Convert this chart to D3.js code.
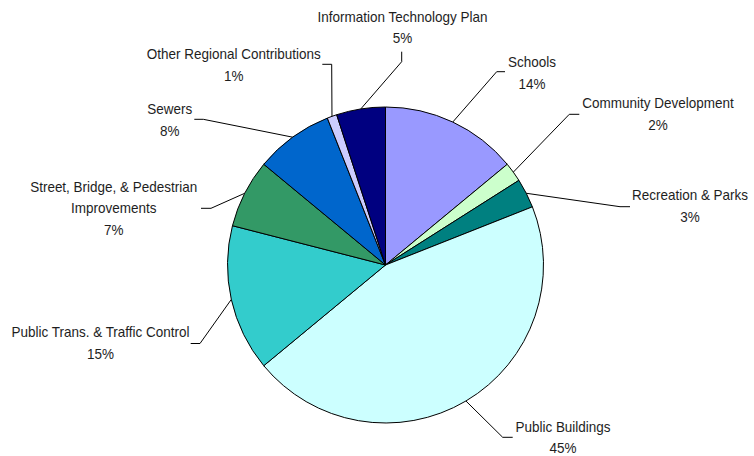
<!DOCTYPE html>
<html>
<head>
<meta charset="utf-8">
<script src="https://cdn.jsdelivr.net/npm/d3@7"></script>
<style>
  html, body { margin: 0; padding: 0; background: #fff; }
  svg { display: block; }
  .lbl { font-family: "Liberation Sans", Arial, sans-serif; font-size: 15px; fill: #1e1e1e; }
</style>
</head>
<body>
<svg id="chart" width="754" height="456"></svg>
<script>
// Capital budget shares, in drawing order (clockwise from 12 o'clock)
const categories = [
  "Schools",
  "Community Development",
  "Recreation & Parks",
  "Public Buildings",
  "Public Trans. & Traffic Control",
  "Street, Bridge, & Pedestrian Improvements",
  "Sewers",
  "Other Regional Contributions",
  "Information Technology Plan"
];
const shares = [14, 2, 3, 45, 15, 7, 8, 1, 5];
const sliceColors = ["#9999FF", "#CCFFCC", "#008080", "#CCFFFF", "#33CCCC", "#339966", "#0066CC", "#CCCCFF", "#000080"];

// Label text lines (category name may wrap)
const labelLines = [
  ["Schools"],
  ["Community Development"],
  ["Recreation & Parks"],
  ["Public Buildings"],
  ["Public Trans. & Traffic Control"],
  ["Street, Bridge, & Pedestrian", "Improvements"],
  ["Sewers"],
  ["Other Regional Contributions"],
  ["Information Technology Plan"]
];

// Label placement: text centre, first baseline, leader elbow and leader end
const labelLayout = [
  { x: 532,   y: 67,    elbow: [496.7, 71.7],  end: [505,   71.7] },
  { x: 658,   y: 108.5, elbow: [569.3, 114.3], end: [579.3, 114.3] },
  { x: 690,   y: 200,   elbow: [620,   206.7], end: [630,   206.7] },
  { x: 563,   y: 431.7, elbow: [502.7, 437.3], end: [512.7, 437.3] },
  { x: 100.5, y: 337.5, elbow: [200,   343.5], end: [190.7, 343.5] },
  { x: 113.7, y: 191.7, elbow: [211,   208.3], end: [201,   208.3] },
  { x: 169.7, y: 114,   elbow: [203.3, 119.3], end: [194.3, 119.3] },
  { x: 233.7, y: 59,    elbow: [331.7, 64.3],  end: [322.3, 64.3] },
  { x: 402.5, y: 21.7,  elbow: [401.7, 61.7],  end: [401.7, 51.7] }
];

const cx = 385.5, cy = 265, radius = 158, lineGap = 21.6;
const narrow = 0.9; // horizontal squeeze giving a condensed label face

const svg = d3.select("#chart");
const data = categories.map((c, i) => ({ name: c, value: shares[i], color: sliceColors[i], lines: labelLines[i], layout: labelLayout[i] }));

const pie = d3.pie().value(d => d.value).sort(null);
const arc = d3.arc().innerRadius(0).outerRadius(radius);
const arcs = pie(data);
const total = d3.sum(shares);

const g = svg.append("g").attr("transform", `translate(${cx},${cy})`);

g.selectAll("path.slice")
  .data(arcs)
  .join("path")
  .attr("class", "slice")
  .attr("d", arc)
  .attr("fill", d => d.data.color)
  .attr("stroke", "#000")
  .attr("stroke-width", 1)
  .attr("stroke-linejoin", "round");

// Leader lines: from the slice rim at its mid-angle to the label
const edge = d3.arc().innerRadius(radius).outerRadius(radius);
svg.selectAll("polyline.leader")
  .data(arcs)
  .join("polyline")
  .attr("class", "leader")
  .attr("fill", "none")
  .attr("stroke", "#000")
  .attr("stroke-width", 1)
  .attr("points", d => {
    const p = edge.centroid(d);
    const L = d.data.layout;
    return [[p[0] + cx, p[1] + cy], L.elbow, L.end].map(q => q.join(",")).join(" ");
  });

// Labels: category name plus percentage
const labels = svg.selectAll("text.lbl")
  .data(arcs)
  .join("text")
  .attr("class", "lbl")
  .attr("text-anchor", "middle")
  .attr("transform", d => `translate(${d.data.layout.x},0) scale(${narrow},1)`);

labels.each(function(d) {
  const t = d3.select(this);
  const L = d.data.layout;
  const lines = d.data.lines.concat([Math.round(d.data.value / total * 100) + "%"]);
  lines.forEach((s, k) => {
    t.append("tspan").attr("x", 0).attr("y", L.y + k * lineGap).text(s);
  });
});
</script>
</body>
</html>
